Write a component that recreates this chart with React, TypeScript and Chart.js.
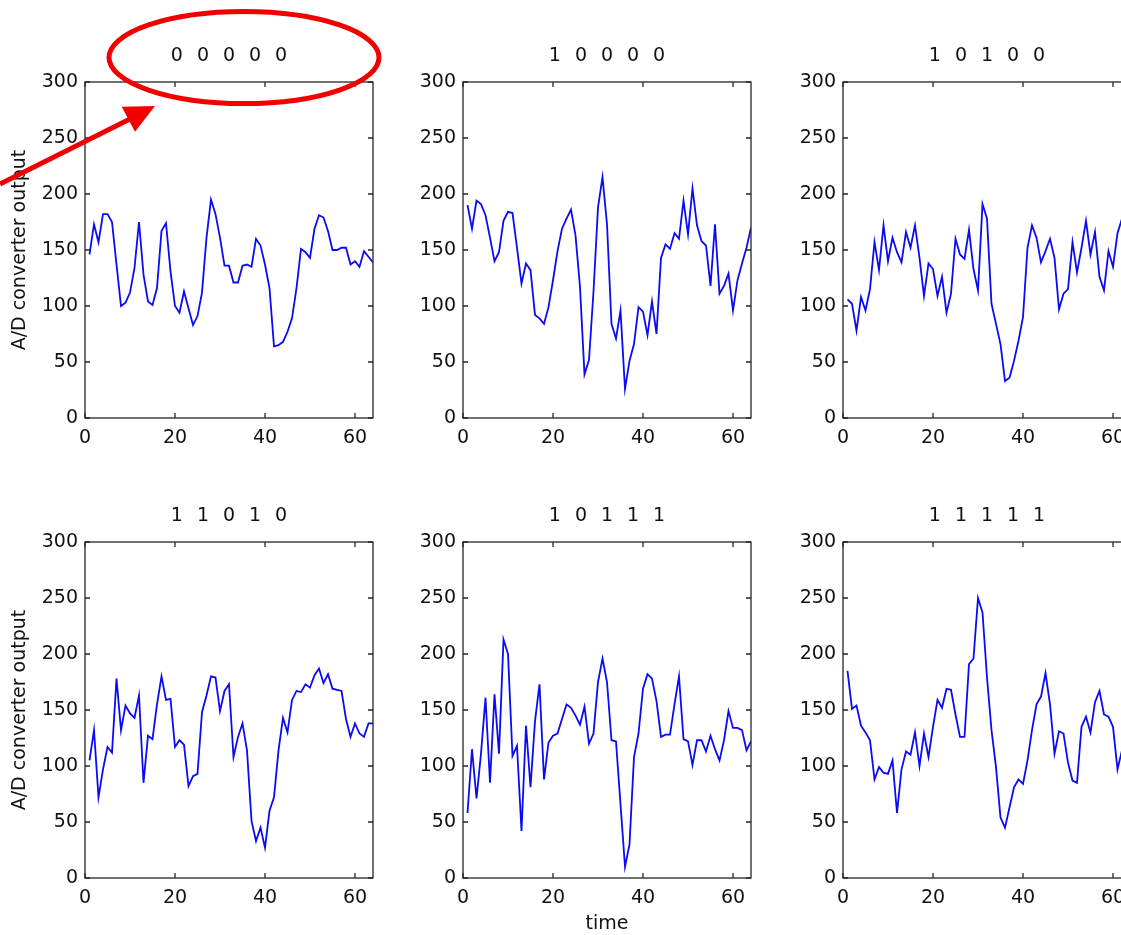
import React, { useEffect, useRef } from "react";
import { Chart, registerables } from "chart.js";

Chart.register(...registerables);

const TIME = [
  1, 2, 3, 4, 5, 6, 7, 8, 9, 10, 11, 12, 13, 14, 15, 16, 17, 18, 19, 20, 21, 22, 23, 24, 25, 26, 27, 28, 29, 30, 31, 32,
  33, 34, 35, 36, 37, 38, 39, 40, 41, 42, 43, 44, 45, 46, 47, 48, 49, 50, 51, 52, 53, 54, 55, 56, 57, 58, 59, 60, 61, 62,
  63, 64,
];

const X_TICKS = [0, 20, 40, 60];
const Y_TICKS = [0, 50, 100, 150, 200, 250, 300];

const GAP = "  \u200A";
const TITLES = [
  ["0", "0", "0", "0", "0"],
  ["1", "0", "0", "0", "0"],
  ["1", "0", "1", "0", "0"],
  ["1", "1", "0", "1", "0"],
  ["1", "0", "1", "1", "1"],
  ["1", "1", "1", "1", "1"],
].map((bits) => bits.join(GAP));

const S00000 = [
  146, 173, 157, 182, 182, 175, 137, 100, 103, 112, 134, 175, 128, 104, 101, 116, 167, 174, 131, 100, 94, 113, 98, 83,
  91, 112, 161, 195, 182, 161, 136, 136, 121, 121, 136, 137, 135, 160, 154, 137, 116, 64, 65, 68, 77, 89, 116, 151, 148,
  143, 169, 181, 179, 167, 150, 150, 152, 152, 137, 140, 135, 149, 144, 139,
];

const S10000 = [
  190, 169, 194, 191, 181, 161, 140, 148, 176, 184, 183, 152, 120, 138, 132, 92, 89, 84, 99, 123, 149, 169, 178, 186,
  163, 117, 39, 52, 113, 188, 215, 173, 84, 71, 96, 26, 51, 66, 99, 95, 74, 104, 75, 143, 155, 151, 165, 160, 194, 164,
  205, 172, 158, 154, 118, 173, 111, 118, 129, 96, 123, 138, 152, 170,
];

const S10100 = [
  106, 102, 78, 108, 96, 115, 157, 132, 172, 140, 161, 148, 139, 166, 152, 172, 143, 109, 138, 133, 109, 126, 94, 111,
  160, 146, 142, 168, 133, 114, 191, 178, 102, 84, 66, 33, 36, 51, 69, 90, 152, 172, 161, 139, 149, 160, 143, 97, 111,
  115, 157, 130, 152, 176, 146, 166, 126, 114, 149, 135, 165, 178, 185, 180,
];

const S11010 = [
  105, 132, 72, 97, 117, 112, 178, 132, 154, 147, 143, 163, 85, 127, 124, 155, 180, 159, 160, 117, 123, 119, 82, 91, 93,
  148, 163, 180, 179, 149, 167, 173, 108, 126, 138, 114, 51, 33, 45, 27, 60, 72, 114, 143, 130, 159, 167, 166, 173, 170,
  181, 187, 174, 182, 169, 168, 167, 142, 126, 138, 129, 126, 138, 138,
];

const S10111 = [
  58, 115, 71, 111, 161, 85, 164, 111, 213, 200, 109, 118, 42, 136, 81, 140, 173, 88, 121, 127, 129, 142, 155, 152, 145,
  137, 153, 120, 129, 175, 196, 175, 123, 122, 66, 10, 30, 108, 129, 169, 182, 178, 158, 126, 128, 128, 155, 180, 124,
  122, 101, 123, 123, 113, 127, 115, 105, 123, 149, 134, 134, 132, 114, 122,
];

const S11111 = [
  185, 151, 154, 136, 130, 123, 88, 99, 94, 93, 105, 58, 97, 113, 110, 130, 100, 129, 108, 135, 159, 152, 169, 168, 146,
  126, 126, 191, 196, 250, 237, 179, 132, 99, 54, 45, 63, 81, 88, 84, 105, 132, 155, 162, 183, 155, 111, 131, 129, 103,
  87, 85, 135, 144, 130, 157, 167, 146, 144, 135, 97, 114, 125, 120,
];

const SERIES = [S00000, S10000, S10100, S11010, S10111, S11111];

const FONT = "'DejaVu Sans', 'Liberation Sans', sans-serif";
const TEXT = "#111111";

const Y_W = 80;
const X_H = 57;
const TOP_H = 60;
const PLOT_W = 288;
const PLOT_H = 336;
const COL_LEFT = [85, 463, 843];
const ROW_TOP = [82, 542];

const boxPlugin = {
  id: "matlabBox",
  afterDatasetsDraw(chart: any) {
    const { ctx, chartArea: a, scales } = chart;
    ctx.save();
    ctx.strokeStyle = "#262626";
    ctx.lineWidth = 1.3;
    ctx.strokeRect(a.left, a.top, a.right - a.left, a.bottom - a.top);
    const L = 5;
    ctx.beginPath();
    X_TICKS.forEach((v) => {
      const px = scales.x.getPixelForValue(v);
      ctx.moveTo(px, a.bottom);
      ctx.lineTo(px, a.bottom - L);
      ctx.moveTo(px, a.top);
      ctx.lineTo(px, a.top + L);
    });
    Y_TICKS.forEach((v) => {
      const py = scales.y.getPixelForValue(v);
      ctx.moveTo(a.left, py);
      ctx.lineTo(a.left + L, py);
      ctx.moveTo(a.right, py);
      ctx.lineTo(a.right - L, py);
    });
    ctx.stroke();
    ctx.restore();
  },
};

function Panel({ idx }: { idx: number }) {
  const ref = useRef<HTMLCanvasElement | null>(null);
  const col = idx % 3;
  const row = Math.floor(idx / 3);
  const showY = col === 0;
  const showX = idx === 4;
  const width = Y_W + PLOT_W + Y_W;
  const height = TOP_H + PLOT_H + X_H;
  const left = COL_LEFT[col] - Y_W;
  const top = ROW_TOP[row] - TOP_H;

  useEffect(() => {
    if (!ref.current) return;
    const values = SERIES[idx];
    const chart = new Chart(ref.current, {
      type: "line",
      data: {
        datasets: [
          {
            data: TIME.map((t, i) => ({ x: t, y: values[i] })),
            borderColor: "#0a0af5",
            borderWidth: 1.8,
            pointRadius: 0,
            tension: 0,
            fill: false,
            yAxisID: "y",
          },
        ],
      },
      options: {
        responsive: false,
        animation: false,
        events: [],
        layout: { padding: 0 },
        plugins: {
          legend: { display: false },
          tooltip: { enabled: false },
          title: {
            display: true,
            text: TITLES[idx],
            color: TEXT,
            font: { family: FONT, size: 19, weight: "normal" },
            padding: { top: 22.6, bottom: 14.6 },
          },
        },
        scales: {
          x: {
            type: "linear",
            min: 0,
            max: 64,
            afterFit: (s: any) => {
              s.height = X_H;
            },
            afterBuildTicks: (s: any) => {
              s.ticks = X_TICKS.map((v) => ({ value: v }));
            },
            grid: { display: false, drawTicks: false },
            border: { display: false },
            ticks: {
              padding: 9,
              color: TEXT,
              font: { family: FONT, size: 19 },
              maxRotation: 0,
              autoSkip: false,
            },
            title: {
              display: showX,
              text: "time",
              color: TEXT,
              font: { family: FONT, size: 19 },
              padding: { top: 0, bottom: 0 },
            },
          },
          y: {
            type: "linear",
            position: "left",
            min: 0,
            max: 300,
            afterFit: (s: any) => {
              s.width = Y_W;
            },
            afterBuildTicks: (s: any) => {
              s.ticks = Y_TICKS.map((v) => ({ value: v }));
            },
            grid: { display: false, drawTicks: false },
            border: { display: false },
            ticks: {
              padding: 7,
              color: TEXT,
              font: { family: FONT, size: 19 },
              autoSkip: false,
            },
            title: {
              display: showY,
              text: "A/D converter output",
              color: TEXT,
              font: { family: FONT, size: 19 },
              padding: { top: 4, bottom: 0 },
            },
          },
          yRight: {
            type: "linear",
            position: "right",
            min: 0,
            max: 300,
            afterFit: (s: any) => {
              s.width = Y_W;
            },
            grid: { display: false, drawTicks: false },
            border: { display: false },
            ticks: { display: false },
          },
        },
      },
      plugins: [boxPlugin],
    });
    return () => chart.destroy();
  }, [idx]);

  return (
    <canvas
      ref={ref}
      width={width}
      height={height}
      style={{ position: "absolute", left, top, width, height }}
    />
  );
}

export default function App() {
  return (
    <div
      style={{
        position: "fixed",
        left: 0,
        top: 0,
        width: 1121,
        height: 935,
        overflow: "hidden",
        background: "#ffffff",
      }}
    >
      {[0, 1, 2, 3, 4, 5].map((i) => (
        <Panel key={i} idx={i} />
      ))}
      <svg
        width={1121}
        height={935}
        style={{ position: "absolute", left: 0, top: 0, pointerEvents: "none" }}
      >
        <ellipse cx={244} cy={57.5} rx={135} ry={46} fill="none" stroke="#f20000" strokeWidth={5} />
        <line x1={0} y1={184} x2={132} y2={118} stroke="#f20000" strokeWidth={5} />
        <polygon points="121.7,106.7 155,106 135,131.7" fill="#f20000" />
      </svg>
    </div>
  );
}
